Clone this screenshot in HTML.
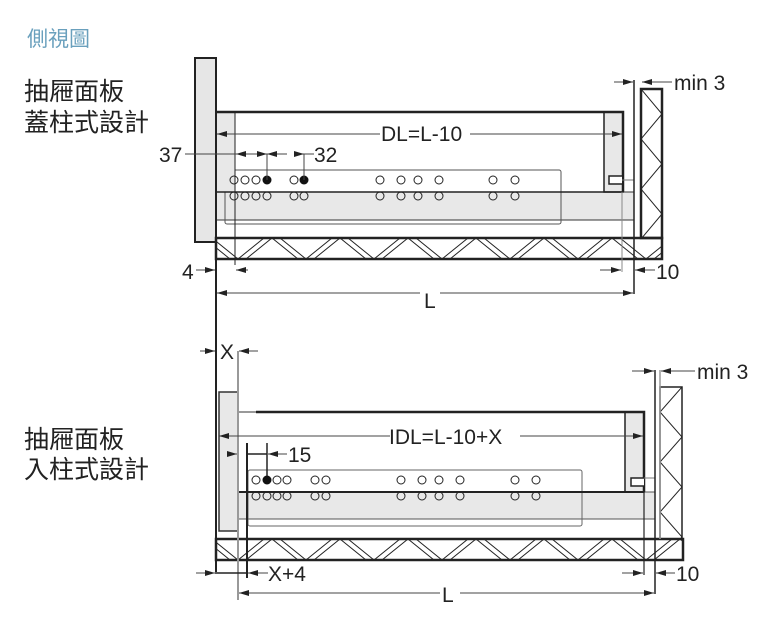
<!DOCTYPE html>
<html><head><meta charset="utf-8"><style>
html,body{margin:0;padding:0;background:#fff;}
svg{display:block;}
text{font-family:"Liberation Sans","Noto Sans CJK TC",sans-serif;}
</style></head><body>
<svg width="777" height="621" viewBox="0 0 777 621" xmlns="http://www.w3.org/2000/svg">
<defs>
<pattern id="h1" x="0" y="238" width="68" height="21" patternUnits="userSpaceOnUse">
<path d="M0 0 L26 21 M34 21 L60 0 M8 0 L34 21 M42 21 L68 0" stroke="#222" stroke-width="1" fill="none"/>
</pattern>
<pattern id="h2" x="0" y="539" width="68" height="21" patternUnits="userSpaceOnUse">
<path d="M0 0 L26 21 M34 21 L60 0 M8 0 L34 21 M42 21 L68 0" stroke="#222" stroke-width="1" fill="none"/>
</pattern>
<pattern id="v1" x="641" y="89" width="21" height="50" patternUnits="userSpaceOnUse">
<path d="M0 0 L21 25 L0 50" stroke="#222" stroke-width="1" fill="none"/>
</pattern>
<pattern id="v2" x="660" y="387" width="22" height="50" patternUnits="userSpaceOnUse">
<path d="M22 0 L0 25 L22 50" stroke="#222" stroke-width="1" fill="none"/>
</pattern>
<marker id="ar" viewBox="0 0 10 6" refX="10" refY="3" markerWidth="10" markerHeight="6" orient="auto" markerUnits="userSpaceOnUse"><path d="M0 0 L10 3 L0 6z" fill="#222"/></marker>
</defs>

<text x="27" y="46" font-size="21" fill="#6aa0bd">側視圖</text>
<text x="24" y="100" font-size="25" fill="#222">抽屜面板</text>
<text x="24" y="131" font-size="25" fill="#222">蓋柱式設計</text>
<text x="24" y="448" font-size="25" fill="#222">抽屜面板</text>
<text x="24" y="478" font-size="25" fill="#222">入柱式設計</text>

<!-- ===== TOP ===== -->
<g stroke="#222" fill="none">
<rect x="216" y="192" width="418" height="28" fill="#e8e8e8" stroke="#333" stroke-width="1"/>
<rect x="225" y="170" width="336" height="54" rx="2" fill="none" stroke="#555" stroke-width="1"/>
<rect x="216" y="112" width="19" height="80" fill="#e8e8e8" stroke="none"/>
<line x1="235" y1="112" x2="235" y2="265" stroke-width="1"/>
<rect x="604" y="112" width="19" height="80" fill="#e8e8e8" stroke-width="1.5"/>
<path d="M216 112 H623 V192" stroke-width="2.5"/>
<line x1="216" y1="192" x2="623" y2="192" stroke-width="1.5"/>
<path d="M622 176 H609 V184 H622" fill="#fff" stroke-width="1.5"/>
<line x1="622" y1="180" x2="634" y2="180" stroke="#777"/>
<rect x="195" y="58" width="21" height="184" fill="#e6e6e6" stroke-width="2"/>
<rect x="216" y="238" width="446" height="21" fill="url(#h1)" stroke-width="2.5"/>
<rect x="641" y="89" width="21" height="149" fill="url(#v1)" stroke-width="2.5"/>
<line x1="634" y1="80" x2="634" y2="294" stroke-width="1.5"/>
<line x1="622" y1="192" x2="622" y2="272" stroke="#888"/>
<line x1="216" y1="259" x2="216" y2="572" stroke-width="2"/>
</g>
<g fill="none" stroke="#222" stroke-width="1">
<circle cx="234" cy="180" r="4"/><circle cx="245" cy="180" r="4"/><circle cx="256" cy="180" r="4"/>
<circle cx="294" cy="180" r="4"/>
<circle cx="380" cy="180" r="4"/><circle cx="401" cy="180" r="4"/><circle cx="418" cy="180" r="4"/><circle cx="439" cy="180" r="4"/>
<circle cx="493" cy="180" r="4"/><circle cx="515" cy="180" r="4"/>
<circle cx="234" cy="196" r="4"/><circle cx="245" cy="196" r="4"/><circle cx="256" cy="196" r="4"/><circle cx="267" cy="196" r="4"/>
<circle cx="294" cy="196" r="4"/><circle cx="304" cy="196" r="4"/>
<circle cx="380" cy="196" r="4"/><circle cx="401" cy="196" r="4"/><circle cx="418" cy="196" r="4"/><circle cx="439" cy="196" r="4"/>
<circle cx="493" cy="196" r="4"/><circle cx="515" cy="196" r="4"/>
</g>
<circle cx="267" cy="180" r="4.5" fill="#111"/><circle cx="304" cy="180" r="4.5" fill="#111"/>
<g stroke="#444" stroke-width="1" fill="none">
<line x1="380" y1="134" x2="217" y2="134" marker-end="url(#ar)"/>
<line x1="470" y1="134" x2="622" y2="134" marker-end="url(#ar)"/>
<line x1="185" y1="154" x2="236" y2="154" stroke="#444"/>
<line x1="256" y1="154" x2="236" y2="154" marker-end="url(#ar)"/>
<line x1="255" y1="154" x2="267" y2="154" marker-end="url(#ar)"/>
<line x1="287" y1="154" x2="267" y2="154" marker-end="url(#ar)"/>
<line x1="294" y1="154" x2="304" y2="154" marker-end="url(#ar)"/>
<line x1="304" y1="154" x2="314" y2="154"/>
<line x1="267" y1="154" x2="267" y2="180"/><line x1="304" y1="154" x2="304" y2="180"/>
<line x1="196" y1="270" x2="215" y2="270" marker-end="url(#ar)"/>
<line x1="248" y1="270" x2="236" y2="270" marker-end="url(#ar)"/>
<line x1="600" y1="270" x2="621" y2="270" marker-end="url(#ar)"/>
<line x1="655" y1="270" x2="635" y2="270" marker-end="url(#ar)"/>
<line x1="420" y1="293" x2="217" y2="293" marker-end="url(#ar)"/>
<line x1="440" y1="293" x2="633" y2="293" marker-end="url(#ar)"/>
<line x1="614" y1="82" x2="633" y2="82" marker-end="url(#ar)"/>
<line x1="672" y1="82" x2="642" y2="82" marker-end="url(#ar)"/>
</g>
<g font-size="21" fill="#222">
<text x="381" y="141">DL=L-10</text>
<text x="159" y="162">37</text>
<text x="314" y="162">32</text>
<text x="182" y="279">4</text>
<text x="656" y="279">10</text>
<text x="424" y="308">L</text>
<text x="674" y="90">min 3</text>
</g>

<!-- ===== BOTTOM ===== -->
<g stroke="#222" fill="none">
<rect x="238" y="492" width="417" height="27" fill="#e8e8e8" stroke="#555" stroke-width="1"/>
<rect x="248" y="470" width="334" height="56" rx="2" fill="none" stroke="#666" stroke-width="1"/>
<rect x="219" y="392" width="19" height="139" fill="#e8e8e8" stroke="#333" stroke-width="1.5"/>
<rect x="625" y="412" width="19" height="80" fill="#e8e8e8" stroke-width="1.5"/>
<path d="M256 412 H644 V492" stroke-width="2.5"/>
<line x1="238" y1="412" x2="256" y2="412" stroke="#999" stroke-width="2"/>
<line x1="238" y1="492" x2="644" y2="492" stroke-width="2"/>
<path d="M644 478 H631 V486 H644" fill="#fff" stroke-width="1.5"/>
<line x1="644" y1="478" x2="655" y2="478" stroke="#777"/>
<rect x="216" y="539" width="467" height="21" fill="url(#h2)" stroke-width="2.5"/>
<rect x="660" y="387" width="22" height="152" fill="url(#v2)" stroke-width="1.5"/>
<line x1="655" y1="370" x2="655" y2="594" stroke-width="1.5"/>
<line x1="660" y1="370" x2="660" y2="539" stroke="#999" stroke-width="1.5"/>
<line x1="644" y1="492" x2="644" y2="575" stroke-width="1.2"/>
<line x1="238" y1="351" x2="238" y2="600" stroke="#999" stroke-width="2"/>
<line x1="247" y1="443" x2="247" y2="578" stroke-width="2"/>
<line x1="267" y1="443" x2="267" y2="480" stroke-width="1.5"/>
</g>
<g fill="none" stroke="#222" stroke-width="1">
<circle cx="256" cy="480" r="4"/><circle cx="277" cy="480" r="4"/><circle cx="287" cy="480" r="4"/>
<circle cx="315" cy="480" r="4"/><circle cx="326" cy="480" r="4"/>
<circle cx="401" cy="480" r="4"/><circle cx="422" cy="480" r="4"/><circle cx="439" cy="480" r="4"/><circle cx="460" cy="480" r="4"/>
<circle cx="515" cy="480" r="4"/><circle cx="536" cy="480" r="4"/>
<circle cx="256" cy="496" r="4"/><circle cx="267" cy="496" r="4"/><circle cx="277" cy="496" r="4"/><circle cx="287" cy="496" r="4"/>
<circle cx="315" cy="496" r="4"/><circle cx="326" cy="496" r="4"/>
<circle cx="401" cy="496" r="4"/><circle cx="422" cy="496" r="4"/><circle cx="439" cy="496" r="4"/><circle cx="460" cy="496" r="4"/>
<circle cx="515" cy="496" r="4"/><circle cx="536" cy="496" r="4"/>
</g>
<circle cx="267" cy="480" r="4.5" fill="#111"/>
<g stroke="#444" stroke-width="1" fill="none">
<line x1="200" y1="351" x2="215" y2="351" marker-end="url(#ar)"/>
<line x1="258" y1="351" x2="239" y2="351" marker-end="url(#ar)"/>
<line x1="390" y1="436" x2="219" y2="436" marker-end="url(#ar)"/>
<line x1="520" y1="436" x2="643" y2="436" marker-end="url(#ar)"/>
<line x1="227" y1="454" x2="237" y2="454" marker-end="url(#ar)"/>
<line x1="247" y1="454" x2="267" y2="454" stroke="#222" stroke-width="1.5"/>
<line x1="287" y1="454" x2="268" y2="454" marker-end="url(#ar)"/>
<line x1="196" y1="573" x2="215" y2="573" marker-end="url(#ar)"/>
<line x1="215" y1="573" x2="247" y2="573" stroke="#222" stroke-width="1.5"/>
<line x1="268" y1="573" x2="248" y2="573" marker-end="url(#ar)"/>
<line x1="622" y1="573" x2="643" y2="573" marker-end="url(#ar)"/>
<line x1="675" y1="573" x2="656" y2="573" marker-end="url(#ar)"/>
<line x1="440" y1="593" x2="239" y2="593" marker-end="url(#ar)"/>
<line x1="460" y1="593" x2="654" y2="593" marker-end="url(#ar)"/>
<line x1="632" y1="371" x2="654" y2="371" marker-end="url(#ar)"/>
<line x1="695" y1="371" x2="661" y2="371" marker-end="url(#ar)"/>
</g>
<g font-size="21" fill="#222">
<text x="220" y="359">X</text>
<text x="389" y="444">IDL=L-10+X</text>
<text x="288" y="462">15</text>
<text x="268" y="581">X+4</text>
<text x="676" y="581">10</text>
<text x="442" y="602">L</text>
<text x="697" y="379">min 3</text>
</g>
</svg>
</body></html>
